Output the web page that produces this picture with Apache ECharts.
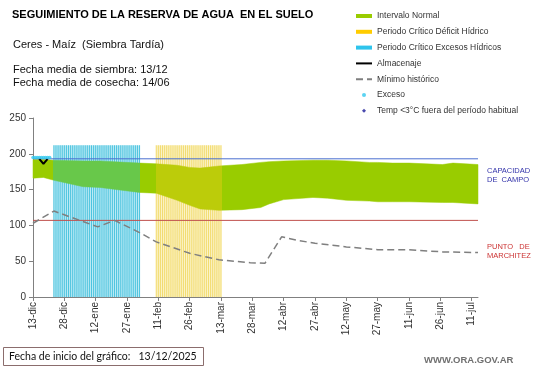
<!DOCTYPE html>
<html>
<head>
<meta charset="utf-8">
<script src="https://cdn.jsdelivr.net/npm/echarts@6/dist/echarts.min.js"></script>
<style>html,body{margin:0;padding:0;background:#fff;}#chart{width:541px;height:368px;}</style>
</head>
<body>
<div id="chart"></div>
<script>
// ---- data (x = days since 13-dic) ----
const tickLabels = ['13-dic','28-dic','12-ene','27-ene','11-feb','26-feb','13-mar','28-mar','12-abr','27-abr','12-may','27-may','11-jun','26-jun','11-jul'];
const tickStep = 15;
const lastDay = 213;

const bandDays  = [0, 5, 10, 24, 32, 51, 59, 69, 75, 80, 89, 100, 109, 113, 120, 134, 141, 150, 161, 165, 172, 180, 196, 201, 213];
const bandLower = [166, 167, 163, 154, 153, 146, 145, 135, 128, 123, 121, 122, 125, 130, 136, 139, 138, 135, 134, 133, 133, 133, 132, 132, 130];
const bandUpper = [192, 192, 191, 190, 190, 187, 186, 184, 181, 180, 183, 185, 188, 189, 190, 191, 191, 190, 188, 188, 187, 187, 185, 187, 185];

const minDays = [0, 10, 31, 39, 51, 59, 75, 89, 104, 111, 119, 127, 135, 150, 165, 180, 196, 213];
const minVals = [103, 120, 98, 107, 90, 77, 61, 52, 48, 47, 84, 79, 75, 70, 66, 66, 63, 62];

const almDays = [3, 5, 7];
const almVals = [193, 186, 193];

const excesoDays = [0, 1, 2, 3, 4, 5, 6, 7, 8];
const excesoVals = [195, 195, 195, 195, 195, 195, 195, 195, 195];

// periods: [startDay, endDay, top]
const excesoPeriods = [[10, 51, 212]];
const deficitPeriods = [[59, 90, 212]];

const capacidadCampo = 193;
const puntoMarchitez = 107;

// ---- chart ----
const pairs = (xs, ys) => xs.map((x, i) => [x, ys[i]]);
const bandRows = bandDays.map((d, i) => [d, bandLower[i], bandUpper[i]]);

const GREEN = '#99cc00', GREEN_EXC = '#68c84a', GREEN_DEF = '#bccc0a';

function bandRender(params, api) {
  if (params.dataIndexInside !== 0) return null;
  const n = params.dataInsideLength;
  const top = [], bottom = [];
  for (let i = 0; i < n; i++) {
    const d = api.value(0, i);
    top.push(api.coord([d, api.value(2, i)]));
    bottom.push(api.coord([d, api.value(1, i)]));
  }
  const pts = top.concat(bottom.reverse());
  // horizontal tint where the critical periods overlap the band
  const x0 = api.coord([0, 0])[0], x1 = api.coord([lastDay, 0])[0];
  const w = x1 - x0;
  const segs = excesoPeriods.map(p => [p[0], p[1], GREEN_EXC]).concat(deficitPeriods.map(p => [p[0], p[1], GREEN_DEF]))
    .sort((a, b) => a[0] - b[0]);
  const stops = [{ offset: 0, color: GREEN }];
  segs.forEach(sg => {
    const a = (api.coord([sg[0], 0])[0] - 0.5 - x0) / w;
    const b = (api.coord([sg[1], 0])[0] + 0.5 - x0) / w;
    stops.push({ offset: a, color: GREEN }, { offset: a, color: sg[2] }, { offset: b, color: sg[2] }, { offset: b, color: GREEN });
  });
  stops.push({ offset: 1, color: GREEN });
  const grad = new echarts.graphic.LinearGradient(x0, 0, x1, 0, stops, true);
  return {
    type: 'polygon',
    shape: { points: pts },
    style: { fill: grad, stroke: grad, lineWidth: 0.5 }
  };
}

function stripes(bgColor, lineColor) {
  return function (params, api) {
    const s = api.value(0), e = api.value(1), top = api.value(2);
    const a = api.coord([s, 0]), b = api.coord([e, top]);
    const children = [{
      type: 'rect',
      shape: { x: a[0] - 0.5, y: b[1], width: b[0] - a[0] + 1, height: a[1] - b[1] },
      style: { fill: bgColor }
    }];
    for (let d = s; d <= e; d++) {
      const p0 = api.coord([d, 0]);
      const p1 = api.coord([d, top]);
      children.push({
        type: 'rect',
        shape: { x: p0[0] - 0.5, y: p1[1], width: 1, height: p0[1] - p1[1] },
        style: { fill: lineColor }
      });
    }
    return { type: 'group', children };
  };
}

const F = 'Liberation Sans, Arial, sans-serif';
const chart = echarts.init(document.getElementById('chart'), null, { renderer: 'canvas' });

chart.setOption({
  animation: false,
  backgroundColor: '#fff',
  grid: { left: 33, right: 63, top: 118, bottom: 71, containLabel: false, outerBoundsMode: 'none' },
  legend: {
    orient: 'vertical',
    left: 350,
    top: 6,
    itemWidth: 16,
    itemHeight: 4,
    itemGap: 5.8,
    selectedMode: false,
    symbolKeepAspect: true,
    textStyle: { fontFamily: F, fontSize: 8.5, color: '#333', lineHeight: 10 },
    data: [
      { name: 'Intervalo Normal', icon: 'rect' },
      { name: 'Periodo Crítico Déficit Hídrico', icon: 'rect' },
      { name: 'Periodo Crítico Excesos Hídricos', icon: 'rect' },
      { name: 'Almacenaje', itemStyle: { opacity: 0 } },
      { name: 'Mínimo histórico', itemStyle: { opacity: 0 } },
      { name: 'Exceso', icon: 'circle' },
      { name: 'Temp <3°C fuera del período habitual', icon: 'path://M5,0 L10,5 L5,10 L0,5 Z' }
    ]
  },
  xAxis: {
    type: 'value',
    min: 0,
    max: lastDay,
    interval: tickStep,
    splitLine: { show: false },
    axisLine: { lineStyle: { color: '#808080', width: 1 } },
    axisTick: { length: 4, lineStyle: { color: '#808080' }, customValues: tickLabels.map((_, i) => i * tickStep) },
    axisLabel: {
      rotate: 90,
      margin: 5,
      fontFamily: F,
      fontSize: 10,
      color: '#333',
      customValues: tickLabels.map((_, i) => i * tickStep),
      formatter: v => tickLabels[Math.round(v / tickStep)] || ''
    }
  },
  yAxis: {
    type: 'value',
    min: 0,
    max: 250,
    interval: 50,
    name: 'Milímetros',
    nameLocation: 'middle',
    nameGap: 27,
    nameTextStyle: { fontFamily: F, fontSize: 7, color: '#333' },
    splitLine: { show: false },
    axisLine: { show: true, lineStyle: { color: '#808080', width: 1 } },
    axisTick: { show: true, length: 4, lineStyle: { color: '#808080' } },
    axisLabel: { fontFamily: F, fontSize: 10, color: '#333', margin: 7 }
  },
  series: [
    {
      name: 'Intervalo Normal', type: 'custom', z: 4,
      itemStyle: { color: GREEN },
      encode: { x: 0, y: [1, 2] },
      renderItem: bandRender,
      data: bandRows, silent: true
    },
    {
      name: 'Periodo Crítico Déficit Hídrico', type: 'custom', z: 3,
      itemStyle: { color: '#ffcc00' },
      encode: { x: [0, 1], y: 2 },
      renderItem: stripes('rgba(242,215,70,0.3)', 'rgba(235,200,40,0.55)'),
      data: deficitPeriods, silent: true
    },
    {
      name: 'Periodo Crítico Excesos Hídricos', type: 'custom', z: 3,
      itemStyle: { color: '#2ec4ec' },
      encode: { x: [0, 1], y: 2 },
      renderItem: stripes('rgba(60,195,225,0.35)', 'rgba(30,180,212,0.7)'),
      data: excesoPeriods, silent: true
    },
    {
      name: 'Capacidad de campo', type: 'line', z: 5, silent: true,
      symbol: 'none', lineStyle: { color: '#4a6fd0', width: 1 },
      data: [[0, capacidadCampo], [lastDay, capacidadCampo]]
    },
    {
      name: 'Punto de marchitez', type: 'line', z: 5, silent: true,
      symbol: 'none', lineStyle: { color: '#c0504d', width: 1 },
      data: [[0, puntoMarchitez], [lastDay, puntoMarchitez]]
    },
    {
      name: 'Mínimo histórico', type: 'line', z: 6,
      symbol: 'none',
      itemStyle: { color: '#7f7f7f' },
      lineStyle: { color: '#7f7f7f', width: 1.5, type: [7, 4] },
      data: pairs(minDays, minVals)
    },
    {
      name: 'Almacenaje', type: 'line', z: 7,
      symbol: 'none',
      itemStyle: { color: '#000' },
      lineStyle: { color: '#000', width: 2 },
      data: pairs(almDays, almVals)
    },
    {
      name: 'Exceso', type: 'scatter', z: 8,
      symbol: 'circle', symbolSize: 3.5,
      itemStyle: { color: '#33c8ee' },
      data: pairs(excesoDays, excesoVals)
    },
    {
      name: 'Temp <3°C fuera del período habitual', type: 'scatter', z: 8,
      symbol: 'diamond', symbolSize: 5,
      itemStyle: { color: '#1a1a99' },
      data: []
    }
  ],
  graphic: [
    { type: 'text', x: 12, y: 15, style: { text: 'SEGUIMIENTO DE LA RESERVA DE AGUA  EN EL SUELO', font: 'bold 11px ' + F, fill: '#000', verticalAlign: 'middle' } },
    { type: 'text', x: 13, y: 45, style: { text: 'Ceres - Maíz  (Siembra Tardía)', font: '11px ' + F, fill: '#111', verticalAlign: 'middle' } },
    { type: 'text', x: 13, y: 70, style: { text: 'Fecha media de siembra: 13/12', font: '11px ' + F, fill: '#111', verticalAlign: 'middle' } },
    { type: 'text', x: 13, y: 83, style: { text: 'Fecha media de cosecha: 14/06', font: '11px ' + F, fill: '#111', verticalAlign: 'middle' } },
    { type: 'text', x: 487, y: 171, style: { text: 'CAPACIDAD', font: '7.5px ' + F, fill: '#3333aa', verticalAlign: 'middle' } },
    { type: 'text', x: 487, y: 180, style: { text: 'DE  CAMPO', font: '7.5px ' + F, fill: '#3333aa', verticalAlign: 'middle' } },
    { type: 'text', x: 487, y: 247, style: { text: 'PUNTO   DE', font: '7.5px ' + F, fill: '#cc3333', verticalAlign: 'middle' } },
    { type: 'text', x: 487, y: 256, style: { text: 'MARCHITEZ', font: '7.5px ' + F, fill: '#cc3333', verticalAlign: 'middle' } },
    { type: 'rect', shape: { x: 3.5, y: 347.5, width: 200, height: 18 }, style: { fill: '#fff', stroke: '#8b6d6d', lineWidth: 1 } },
    { type: 'text', x: 9, y: 357, style: { text: 'Fecha de inicio del gráfico:   13/12/2025', font: '10.5px Lato, "Open Sans", sans-serif', fill: '#111', verticalAlign: 'middle' } },
    { type: 'text', x: 424, y: 360, style: { text: 'WWW.ORA.GOV.AR', font: 'bold 9.5px ' + F, fill: '#707070', verticalAlign: 'middle' } }
  ]
});
</script>
</body>
</html>
